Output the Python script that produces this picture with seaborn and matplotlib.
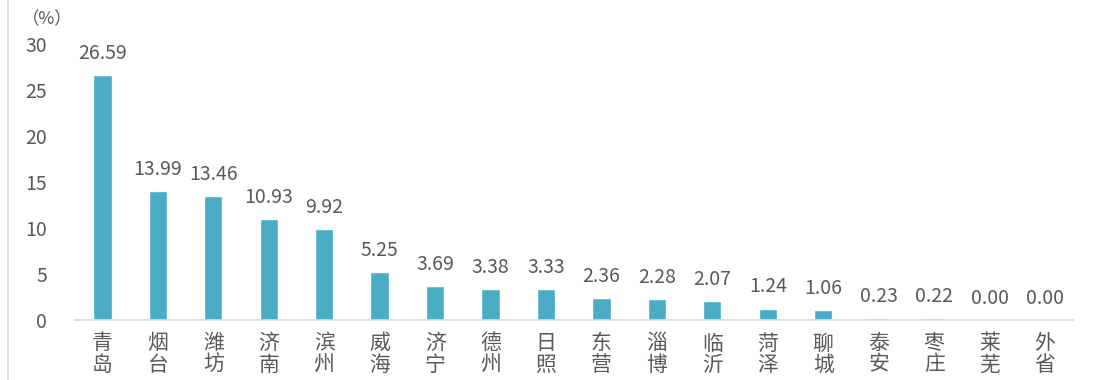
import numpy as np
import pandas as pd
import matplotlib.pyplot as plt
import seaborn as sns

cities = ['青岛', '烟台', '潍坊', '济南', '滨州', '威海', '济宁', '德州', '日照',
          '东营', '淄博', '临沂', '菏泽', '聊城', '泰安', '枣庄', '莱芜', '外省']
shares = [26.59, 13.99, 13.46, 10.93, 9.92, 5.25, 3.69, 3.38, 3.33,
          2.36, 2.28, 2.07, 1.24, 1.06, 0.23, 0.22, 0.00, 0.00]
y_ticks = [0, 5, 10, 15, 20, 25, 30]

sns.set_style('white')
plt.rcParams['font.family'] = ['Noto Sans CJK SC', 'DejaVu Sans']

text_color = '#595959'
bar_color = '#4bacc6'

df = pd.DataFrame({'city': cities, 'share': shares})

fig = plt.figure(figsize=(10.98, 3.8), dpi=100)
ax = fig.add_axes([0.068, 0.158, 0.909, 0.726])
sns.barplot(data=df, x='city', y='share', color=bar_color, width=0.33,
            saturation=1, ax=ax)

ax.set_ylim(0, 30)
ax.set_yticks(y_ticks)
ax.set_xlim(-0.5, len(cities) - 0.5)
ax.set_xlabel('')
ax.set_ylabel('')
ax.set_xticks(range(len(cities)))
ax.set_xticklabels(['\n'.join(c) for c in cities], linespacing=0.95)
ax.tick_params(axis='both', length=0, labelsize=14, colors=text_color)
ax.tick_params(axis='x', labelsize=15, pad=9)
ax.tick_params(axis='y', pad=20)
for side in ['top', 'right', 'left']:
    ax.spines[side].set_visible(False)
ax.spines['bottom'].set_color('#d9d9d9')
ax.spines['bottom'].set_linewidth(1.2)

for i, v in enumerate(shares):
    ax.annotate(f'{v:.2f}', (i, v), xytext=(0, 8), textcoords='offset points',
                ha='center', va='bottom', fontsize=14, color=text_color)

fig.text(0.043, 0.948, '（%）', ha='center', va='center', fontsize=12.5,
         color=text_color)
fig.add_artist(plt.Line2D([0.007, 0.007], [0, 1], color='#d9d9d9', lw=1.2))

fig.savefig('out.png', dpi=100)
